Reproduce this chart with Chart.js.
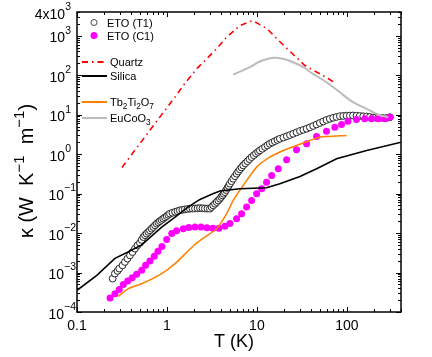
<!DOCTYPE html>
<html>
<head>
<meta charset="utf-8">
<script src="https://cdn.jsdelivr.net/npm/chart.js@4.4.1/dist/chart.umd.min.js"></script>
<style>
  html, body { margin: 0; padding: 0; background: #fff; }
  canvas { display: block; }
</style>
</head>
<body>
<canvas id="chart" width="432" height="357"></canvas>
<script>
// ETO (T1) - open circles
const t1T = [0.249, 0.264, 0.282, 0.295, 0.321, 0.341, 0.364, 0.388, 0.414, 0.441, 0.47, 0.501, 0.523, 0.546, 0.57, 0.594, 0.62, 0.647, 0.675, 0.705, 0.737, 0.769, 0.802, 0.836, 0.872, 0.91, 0.95, 0.993, 1.035, 1.08, 1.15, 1.23, 1.31, 1.39, 1.48, 1.58, 1.69, 1.80, 1.92, 2.05, 2.19, 2.33, 2.48, 2.64, 2.82, 3.0, 3.13, 3.27, 3.42, 3.57, 3.72, 3.88, 4.01, 4.14, 4.27, 4.41, 4.55, 4.70, 4.85, 5.01, 5.22, 5.45, 5.7, 5.95, 6.2, 6.47, 6.75, 7.04, 7.43, 7.84, 8.27, 8.73, 9.23, 9.75, 10.3, 10.8, 11.5, 12.3, 13.1, 13.9, 14.8, 15.8, 16.9, 18.0, 19.7, 21.5, 23.3, 25.3, 27.6, 30.1, 32.8, 35.7, 38.8, 42.2, 46.0, 50.1, 54.6, 59.4, 64.7, 70.4, 76.7, 83.6, 91.1, 99.3, 108, 117, 128, 139, 152, 166, 180, 196, 209, 223, 248, 276, 301];
const t1K = [7.0e-4, 9.4e-4, 1.10e-3, 1.26e-3, 1.52e-3, 1.85e-3, 2.25e-3, 2.72e-3, 3.30e-3, 4.03e-3, 4.89e-3, 5.65e-3, 6.7e-3, 7.9e-3, 8.8e-3, 9.7e-3, 0.0107, 0.0117, 0.0129, 0.0142, 0.0157, 0.0173, 0.0187, 0.0201, 0.0216, 0.0232, 0.025, 0.0269, 0.029, 0.031, 0.0328, 0.0344, 0.036, 0.0376, 0.0388, 0.0398, 0.0407, 0.0415, 0.0418, 0.042, 0.0425, 0.043, 0.0425, 0.042, 0.0418, 0.0415, 0.0456, 0.0502, 0.0553, 0.061, 0.067, 0.0743, 0.082, 0.09, 0.099, 0.109, 0.123, 0.139, 0.157, 0.178, 0.206, 0.238, 0.276, 0.319, 0.362, 0.41, 0.461, 0.518, 0.585, 0.66, 0.745, 0.84, 0.935, 1.04, 1.14, 1.24, 1.37, 1.52, 1.67, 1.83, 1.97, 2.13, 2.29, 2.45, 2.64, 2.84, 3.05, 3.28, 3.56, 3.87, 4.13, 4.4, 4.77, 5.17, 5.65, 6.17, 6.73, 7.34, 7.83, 8.35, 8.75, 9.17, 9.3, 9.43, 9.5, 9.55, 9.42, 9.27, 9.13, 9.0, 8.74, 8.49, 8.42, 8.35, 8.3, 8.27, 8.65];

// ETO (C1) - filled magenta
const c1T = [0.233, 0.264, 0.295, 0.327, 0.366, 0.411, 0.46, 0.524, 0.579, 0.647, 0.723, 0.794, 0.88, 0.993, 1.13, 1.28, 1.52, 1.75, 2.05, 2.39, 2.78, 3.24, 3.78, 4.41, 5.01, 5.95, 6.76, 7.69, 8.73, 9.93, 11.3, 12.8, 14.6, 17.3, 21.4, 27.6, 35.7, 46.1, 59.4, 73.6, 87.3, 103, 128, 158, 188, 223, 264, 301];
const c1K = [2.26e-4, 2.92e-4, 3.69e-4, 4.94e-4, 6.1e-4, 7.4e-4, 9.0e-4, 1.14e-3, 1.52e-3, 1.95e-3, 2.57e-3, 3.44e-3, 4.6e-3, 6.9e-3, 9.7e-3, 0.0114, 0.0129, 0.0139, 0.0142, 0.0142, 0.0136, 0.0133, 0.0133, 0.0148, 0.0176, 0.0232, 0.031, 0.0455, 0.0673, 0.0993, 0.133, 0.195, 0.289, 0.427, 0.721, 1.29, 1.83, 2.81, 3.82, 4.83, 5.65, 6.84, 7.56, 7.87, 7.87, 7.87, 7.87, 8.65];

// Quartz
const quartzT = [0.316, 0.736, 1.23, 1.58, 2.14, 3.41, 4.61, 6.47, 9.0, 12.9, 18.9, 34.1, 54.1, 73.6];
const quartzK = [0.46, 5.98, 28, 61.7, 145, 422, 916, 1811, 2427, 1521, 635, 176, 98, 65];

// Silica
const silicaT = [0.1, 0.166, 0.264, 0.369, 0.524, 0.874, 1.23, 1.71, 2.33, 3.24, 3.88, 6.47, 12.8, 18.0, 30.1, 46.1, 76.9, 166, 400];
const silicaK = [3.54e-4, 8.5e-4, 2.29e-3, 3.3e-3, 5.0e-3, 0.0142, 0.0254, 0.0455, 0.0713, 0.0993, 0.116, 0.133, 0.141, 0.178, 0.272, 0.427, 0.766, 1.24, 2.01];

// Tb2Ti2O7
const tbT = [0.288, 0.372, 0.524, 0.874, 1.23, 2.0, 2.64, 3.57, 4.61, 5.45, 7.04, 9.93, 13.9, 19.6, 27.6, 38.8, 50.1, 99.3];
const tbK = [2.49e-4, 3.9e-4, 5.2e-4, 9.4e-4, 1.68e-3, 4.9e-3, 7.9e-3, 0.0129, 0.031, 0.0673, 0.161, 0.469, 0.84, 1.24, 1.66, 2.22, 2.69, 2.97];

// EuCoO3
const eucoT = [5.45, 8.36, 10.9, 15.2, 19.6, 25.3, 32.7, 42.2, 59.4, 83.6, 117, 166, 223, 288];
const eucoK = [104, 160, 226, 276, 260, 213, 160, 108, 66.5, 37.1, 20.7, 14.1, 10.1, 8.65];

// axis ticks
const xTickVals = [0.1, 1, 10, 100];
const xTickLabels = ['0.1', '1', '10', '100'];
const yTickVals = [1e-4, 1e-3, 1e-2, 1e-1, 1, 10, 100, 1000, 4000];
const yTickMant = ['', '', '', '', '', '', '', '', '4x'];
const yTickExp = ['\u22124', '\u22123', '\u22122', '\u22121', '0', '1', '2', '3', '3'];

const FONT = '"Liberation Sans", Arial, Helvetica, sans-serif';
const QUARTZ_DASH = [6, 4, 1.5, 4];

function pts(xs, ys) {
  return xs.map((x, i) => ({ x: x, y: ys[i] }));
}

function richWidth(ctx, parts, size) {
  let w = 0;
  parts.forEach(p => {
    ctx.font = (p.s ? size * 0.75 : size) + 'px ' + FONT;
    w += ctx.measureText(p.t).width;
  });
  return w;
}

function drawRich(ctx, parts, x, y, size, align, supRaise) {
  const w = richWidth(ctx, parts, size);
  let cx = align === 'right' ? x - w : (align === 'center' ? x - w / 2 : x);
  ctx.textAlign = 'left';
  ctx.textBaseline = 'alphabetic';
  parts.forEach(p => {
    ctx.font = (p.s ? size * 0.75 : size) + 'px ' + FONT;
    let dy = 0;
    if (p.s === 1) dy = -size * (supRaise || 0.45);
    if (p.s === -1) dy = size * 0.28;
    ctx.fillText(p.t, cx, y + dy);
    cx += ctx.measureText(p.t).width;
  });
}

const legendItems = [
  { parts: [{ t: 'ETO (T1)' }], kind: 'open', y: 22.5, tx: 107 },
  { parts: [{ t: 'ETO (C1)' }], kind: 'dot', y: 35.5, tx: 107 },
  { parts: [{ t: 'Quartz' }], kind: 'line', color: '#ff0000', dash: QUARTZ_DASH, y: 62, tx: 110 },
  { parts: [{ t: 'Silica' }], kind: 'line', color: '#000000', dash: [], y: 76, tx: 110 },
  { parts: [{ t: 'Tb' }, { t: '2', s: -1 }, { t: 'Ti' }, { t: '2', s: -1 }, { t: 'O' }, { t: '7', s: -1 }], kind: 'line', color: '#ff8000', dash: [], y: 102, tx: 110 },
  { parts: [{ t: 'EuCoO' }, { t: '3', s: -1 }], kind: 'line', color: '#bbbbbb', dash: [], y: 118, tx: 110 }
];

const framePlugin = {
  id: 'frame',
  afterDraw(chart) {
    const ctx = chart.ctx;
    const a = chart.chartArea;
    const xs = chart.scales.x, ys = chart.scales.y;
    ctx.save();
    ctx.fillStyle = '#000';
    ctx.strokeStyle = '#000';

    // ticks, all four sides, pointing in
    ctx.lineWidth = 1;
    ctx.beginPath();
    for (let d = -1; d <= 2; d++) {
      for (let m = 1; m <= 9; m++) {
        const v = m * Math.pow(10, d);
        if (v > 400) continue;
        const px = Math.round(xs.getPixelForValue(v)) + 0.5;
        const len = m === 1 ? 5 : 3;
        ctx.moveTo(px, a.bottom); ctx.lineTo(px, a.bottom - len);
        ctx.moveTo(px, a.top); ctx.lineTo(px, a.top + len);
      }
    }
    for (let d = -4; d <= 3; d++) {
      for (let m = 1; m <= 9; m++) {
        const v = m * Math.pow(10, d);
        if (v > 4000) continue;
        const py = Math.round(ys.getPixelForValue(v)) + 0.5;
        const len = m === 1 ? 5 : 3;
        ctx.moveTo(a.left, py); ctx.lineTo(a.left + len, py);
        ctx.moveTo(a.right, py); ctx.lineTo(a.right - len, py);
      }
    }
    ctx.stroke();

    // frame
    ctx.lineWidth = 1.5;
    ctx.strokeRect(a.left, a.top, a.right - a.left, a.bottom - a.top);

    // x tick labels
    ctx.font = '14px ' + FONT;
    ctx.textAlign = 'center';
    ctx.textBaseline = 'alphabetic';
    xTickVals.forEach((v, i) => {
      ctx.fillText(xTickLabels[i], xs.getPixelForValue(v), 330);
    });

    // y tick labels with superscript exponents
    yTickVals.forEach((v, i) => {
      const py = ys.getPixelForValue(v);
      const neg = yTickExp[i].charAt(0) === '\u2212';
      const parts = [{ t: yTickMant[i] + '10' }, { t: yTickExp[i], s: 1 }];
      drawRich(ctx, parts, neg ? 76 : 71, py + 6.5, 14, 'right', 0.62);
    });

    // axis titles
    ctx.font = '18px ' + FONT;
    ctx.textAlign = 'center';
    ctx.fillText('T (K)', 234, 347);

    ctx.save();
    ctx.translate(33, 171);
    ctx.rotate(-Math.PI / 2);
    drawRich(ctx, [
      { t: '\u03ba (W  K' }, { t: '\u22121', s: 1 }, { t: '  m' }, { t: '\u22121', s: 1 }, { t: ')' }
    ], 0, 0, 20, 'center', 0.45);
    ctx.restore();

    // legend
    legendItems.forEach(it => {
      if (it.kind === 'open') {
        ctx.beginPath();
        ctx.arc(94, it.y, 3, 0, Math.PI * 2);
        ctx.fillStyle = '#fff'; ctx.fill();
        ctx.lineWidth = 0.9; ctx.strokeStyle = '#333'; ctx.stroke();
      } else if (it.kind === 'dot') {
        ctx.beginPath();
        ctx.arc(94, it.y, 3.5, 0, Math.PI * 2);
        ctx.fillStyle = '#ff00ff'; ctx.fill();
      } else {
        ctx.beginPath();
        ctx.setLineDash(it.dash);
        ctx.lineWidth = 2;
        ctx.strokeStyle = it.color;
        ctx.moveTo(82, it.y); ctx.lineTo(107, it.y);
        ctx.stroke();
        ctx.setLineDash([]);
      }
      ctx.fillStyle = '#000';
      drawRich(ctx, it.parts, it.tx, it.y + 4, 11, 'left');
    });
    ctx.restore();
  }
};

const config = {
  type: 'scatter',
  data: {
    datasets: [
      {
        label: 'Quartz', data: pts(quartzT, quartzK), showLine: true,
        borderColor: '#ff0000', borderWidth: 1.6, borderDash: QUARTZ_DASH,
        pointRadius: 0, order: 1
      },
      {
        label: 'Silica', data: pts(silicaT, silicaK), showLine: true,
        borderColor: '#000000', borderWidth: 1.6, pointRadius: 0, order: 2
      },
      {
        label: 'Tb2Ti2O7', data: pts(tbT, tbK), showLine: true,
        borderColor: '#ff8000', borderWidth: 1.5, pointRadius: 0, tension: 0.2, order: 3
      },
      {
        label: 'EuCoO3', data: pts(eucoT, eucoK), showLine: true,
        borderColor: '#bbbbbb', borderWidth: 2, pointRadius: 0, tension: 0.4, order: 4
      },
      {
        label: 'ETO (C1)', data: pts(c1T, c1K), showLine: false,
        pointRadius: 3.5, pointBackgroundColor: '#ff00ff', pointBorderWidth: 0,
        pointBorderColor: '#ff00ff', order: 5
      },
      {
        label: 'ETO (T1)', data: pts(t1T, t1K), showLine: false,
        pointRadius: 3.4, pointBackgroundColor: '#ffffff', pointBorderWidth: 1,
        pointBorderColor: '#222222', order: 6
      }
    ]
  },
  options: {
    responsive: false,
    animation: false,
    devicePixelRatio: 1,
    events: [],
    layout: { padding: { left: 77, right: 31, top: 12, bottom: 45 } },
    plugins: { legend: { display: false }, tooltip: { enabled: false } },
    scales: {
      x: { type: 'logarithmic', min: 0.1, max: 400, display: false },
      y: { type: 'logarithmic', min: 1e-4, max: 4000, display: false }
    }
  },
  plugins: [framePlugin]
};

const chart = new Chart(document.getElementById('chart').getContext('2d'), config);
</script>
</body>
</html>
